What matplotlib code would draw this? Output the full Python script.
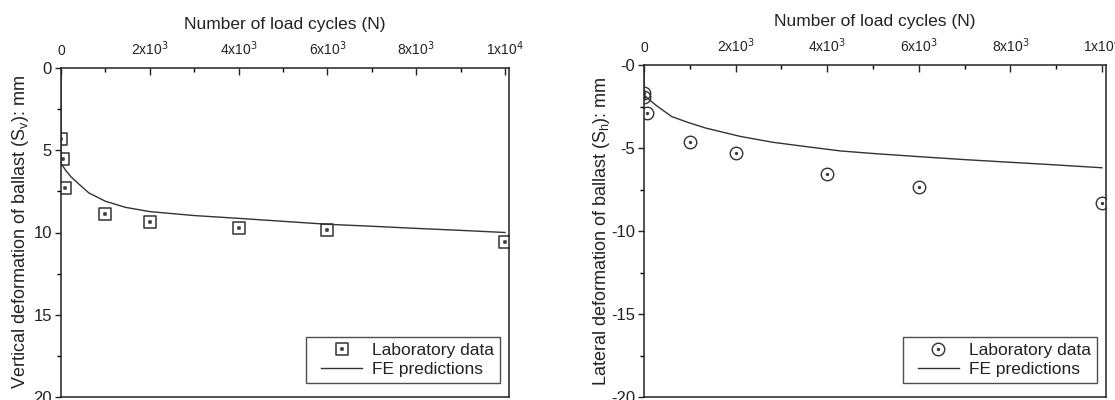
import matplotlib
matplotlib.use("Agg")
import matplotlib.pyplot as plt
from matplotlib.path import Path
from matplotlib.transforms import Affine2D
from matplotlib.ticker import MultipleLocator, FixedLocator
from matplotlib.lines import Line2D
from matplotlib.legend_handler import HandlerLine2D

plt.rcParams['font.family'] = ['Liberation Sans', 'DejaVu Sans']

# ---- data ----
# Vertical deformation (settlement), mm
lab_v_cycles = [0, 40, 90, 1000, 2000, 4000, 6000, 10000]
lab_v_defl = [4.33, 5.55, 7.28, 8.9, 9.35, 9.75, 9.85, 10.55]
fe_v_cycles = [0, 0, 100, 220, 400, 630, 1000, 1450, 2000, 3000, 4000,
               5000, 6000, 7000, 8000, 9000, 10000]
fe_v_defl = [0, 5.8, 6.2, 6.6, 7.05, 7.6, 8.1, 8.47, 8.73, 8.97, 9.14,
             9.32, 9.5, 9.62, 9.75, 9.87, 10.0]

# Lateral deformation, mm
lab_h_cycles = [0, 10, 70, 1000, 2000, 4000, 6000, 10000]
lab_h_defl = [-1.7, -1.91, -2.91, -4.62, -5.32, -6.55, -7.37, -8.33]
fe_h_cycles = [0, 0, 100, 250, 600, 950, 1350, 2100, 2800, 3550, 4300,
               5000, 6000, 7000, 8000, 9000, 10000]
fe_h_defl = [0, -1.8, -2.05, -2.4, -3.1, -3.45, -3.8, -4.3, -4.65, -4.92,
             -5.18, -5.33, -5.52, -5.7, -5.86, -6.02, -6.19]

x_ticks = [0, 2000, 4000, 6000, 8000, 10000]
x_tick_labels = ['0', r'2x10$^3$', r'4x10$^3$', r'6x10$^3$', r'8x10$^3$', r'1x10$^4$']
v_ticks = [0, 5, 10, 15, 20]
v_tick_labels = ['0', '5', '10', '15', '20']
h_ticks = [0, -5, -10, -15, -20]
h_tick_labels = ['-0', '-5', '-10', '-15', '-20']

INK = '#222222'
LINE = '#333333'


def dotted(shape):
    """Open marker outline with a tiny mark in its centre."""
    if shape == 's':
        outer = Path.unit_rectangle().transformed(Affine2D().translate(-0.5, -0.5))
        inner = Path.unit_rectangle().transformed(
            Affine2D().translate(-0.5, -0.5).scale(0.18))
    else:
        outer = Path.unit_circle()
        inner = Path.unit_circle().transformed(Affine2D().scale(0.15))
    return Path.make_compound_path(outer, inner)


W, H = 1115, 400
fig = plt.figure(figsize=(W / 100, H / 100), dpi=100)
ax1 = fig.add_axes([61 / W, 3 / H, 448 / W, 329 / H])
ax2 = fig.add_axes([644 / W, 3 / H, 462 / W, 332 / H])


def style(ax, yticks, ylabels, ylim, ylabel, label_x):
    ax.set_xlim(0, 10090)
    ax.set_ylim(*ylim)
    ax.xaxis.tick_top()
    ax.xaxis.set_label_position('top')
    ax.xaxis.set_major_locator(FixedLocator(x_ticks))
    ax.set_xticklabels(x_tick_labels)
    ax.xaxis.set_minor_locator(MultipleLocator(1000))
    ax.yaxis.set_major_locator(FixedLocator(yticks))
    ax.set_yticklabels(ylabels)
    ax.yaxis.set_minor_locator(MultipleLocator(2.5))
    ax.tick_params(axis='x', which='major', direction='in', length=5, width=1,
                   pad=7, labelsize=10, colors=INK)
    ax.tick_params(axis='x', which='minor', direction='in', length=3, width=1)
    ax.tick_params(axis='y', which='major', direction='out', length=4.5, width=1,
                   pad=2, labelsize=12, colors=INK)
    ax.tick_params(axis='y', which='minor', direction='out', length=3, width=1)
    for s in ax.spines.values():
        s.set_linewidth(1.1)
        s.set_color(INK)
    ax.set_xlabel('Number of load cycles (N)', fontsize=12.5, color=INK,
                  labelpad=8)
    ax.set_ylabel(ylabel, fontsize=13, color=INK)
    ax.yaxis.set_label_coords(label_x, 0.5)


style(ax1, v_ticks, v_tick_labels, (20, 0),
      r'Vertical deformation of ballast (S$_\mathregular{v}$): mm', -0.067)
style(ax2, h_ticks, h_tick_labels, (-20, 0),
      r'Lateral deformation of ballast (S$_\mathregular{h}$): mm', -0.069)

ax1.plot(lab_v_cycles, lab_v_defl, linestyle='none', marker=dotted('s'),
         markersize=9, mfc='none', mec=LINE, mew=1.1, label='Laboratory data')
ax1.plot(fe_v_cycles, fe_v_defl, color=LINE, lw=1.0, label='FE predictions')

ax2.plot(lab_h_cycles, lab_h_defl, linestyle='none', marker=dotted('o'),
         markersize=9, mfc='none', mec=LINE, mew=1.0, label='Laboratory data')
ax2.plot(fe_h_cycles, fe_h_defl, color=LINE, lw=1.0, label='FE predictions')

for ax in (ax1, ax2):
    leg = ax.legend(loc='lower right', bbox_to_anchor=(0.98, 0.042),
                    fontsize=12.5, frameon=True, fancybox=False,
                    edgecolor=INK, handlelength=2.88, handletextpad=0.57,
                    borderpad=0.35, labelspacing=0.2, borderaxespad=0,
                    handler_map={Line2D: HandlerLine2D(xpad=0.52)})
    leg.get_frame().set_linewidth(1.0)
    for t in leg.get_texts():
        t.set_color(INK)

fig.savefig('out.png', dpi=100)
